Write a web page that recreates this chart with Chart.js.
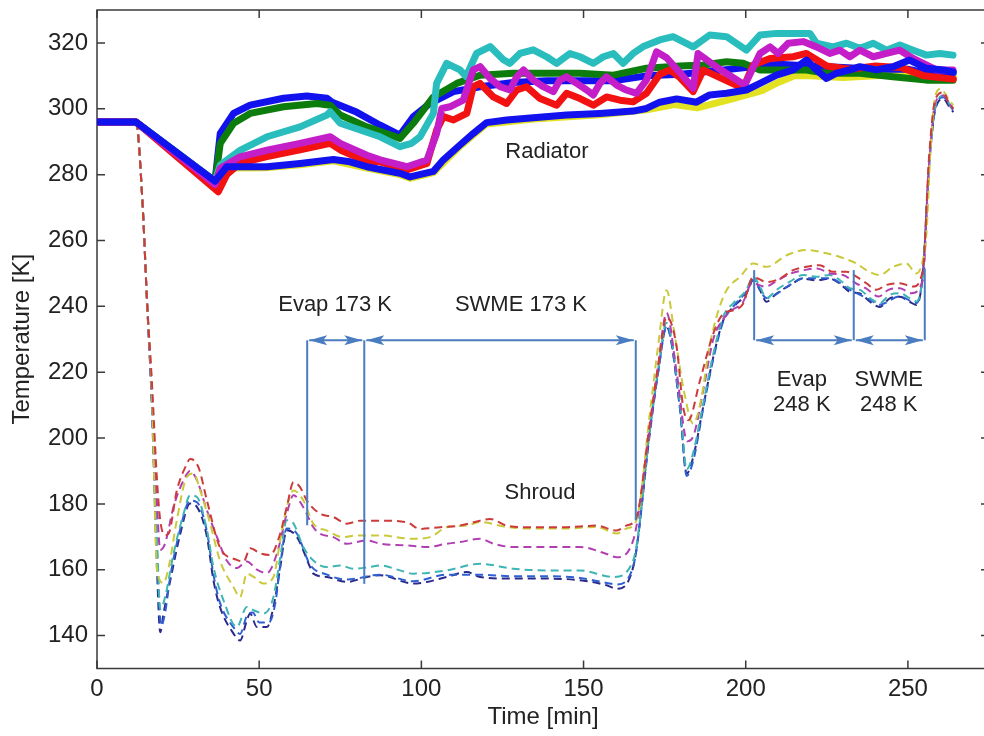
<!DOCTYPE html>
<html><head><meta charset="utf-8">
<script src="https://cdn.jsdelivr.net/npm/chart.js@4.4.1/dist/chart.umd.min.js"></script>
<style>html,body{margin:0;padding:0;background:#fff;overflow:hidden;width:984px;height:736px}canvas{display:block}</style>
</head><body><canvas id="c" width="1000" height="736"></canvas>
<script>
// ---------- DATA (time [min], temperature [K]) ----------
const xTickValues = [0, 50, 100, 150, 200, 250];
const yTickValues = [140, 160, 180, 200, 220, 240, 260, 280, 300, 320];

// Radiator (thick solid lines)
const radBlueLower = [[0,296],[12,296],[36.4,278],[40,282.4],[44.1,282.4],[52.4,282.4],[62.6,283.4],[72.9,284.6],[78,283.9],[83.2,282.4],[93.4,280.4],[96.5,279.3],[103.7,281],[106.8,284.5],[111.9,289],[116,292.5],[120.1,295.8],[126.3,296.6],[134.5,297.3],[144.8,298.1],[155,298.6],[165.3,299.3],[169.4,300.1],[173.5,302],[178.7,303],[184.8,302],[188.9,304.2],[194.1,304.7],[200.2,305.7],[204.4,307.7],[209.5,310.2],[214.6,311.8],[218.7,314.8],[221.8,311.8],[224.9,309.2],[228,310.8],[232.1,311.8],[235.2,312.8],[240.3,311.8],[245.4,312.8],[250.5,314.8],[255.7,312.3],[260.9,311.8],[263.9,311.2]];
const radMagenta = [[0,296],[12,296],[36.4,277],[38,281.9],[44.1,285.4],[52.4,287.4],[62.6,289.5],[71.9,291.5],[75,289.5],[83.2,285.9],[87.3,284.5],[95.5,282.4],[101.7,284.4],[104.7,292.5],[106.3,300.1],[108.8,300.6],[112.9,302.6],[116,311.8],[118.1,312.8],[121.2,309.2],[124.3,306.7],[127.3,305.7],[129.4,309.7],[131.5,311.8],[134.5,308.7],[137.6,306.7],[140.7,305.2],[142.7,308.7],[144.8,309.7],[147.9,307.7],[151,305.7],[153,304.2],[155,307.7],[157.1,309.7],[160.2,307.2],[163.2,305.7],[166.3,304.7],[169.4,308.7],[172.5,317.3],[175.6,315.5],[179.7,311],[183.8,306.2],[185.3,316.8],[192,312],[199.7,307.2],[204.4,316.8],[207.5,318.8],[210,316.8],[213.1,319.9],[217.7,320.4],[221.8,318.8],[225.9,316.8],[229,317.8],[232.1,315.8],[235.2,317.8],[239.3,315.8],[243.4,316.8],[247.5,317.8],[251.6,315.3],[254.7,313.8],[258.8,311.8],[263.9,311.8]];
const radRed = [[0,296],[12,296],[37.4,274.8],[40,280],[44.1,283.5],[52.4,285.5],[62.6,287.5],[71.9,289.5],[75,287.5],[83.2,284],[87.3,283.9],[95.5,281.4],[101.7,283.4],[104.7,293.5],[106.8,297.6],[109.9,296.6],[114,298.6],[116,306.7],[118.1,307.7],[122.2,303.6],[126.3,301.6],[129.4,305.7],[132.4,306.7],[136.6,303.1],[141.7,301.1],[144.8,304.7],[148.9,303.1],[153,301.1],[157.1,303.6],[161.2,302.6],[165.3,302.1],[169.4,304.7],[173.5,310.5],[176.6,311.8],[179.7,309.5],[183.8,305.2],[186.9,311.8],[199.2,306.2],[202.3,313.3],[207.5,315.3],[214.6,315.8],[218.7,316.8],[225,313],[232,312],[240,313],[248,312.5],[255,310],[264,309]];
const radCyan = [[0,296],[12,296],[36.4,278],[38,282.9],[44.1,287.4],[52.4,291.5],[62.6,294.5],[70.9,298.1],[71.9,299.1],[75,295.6],[87.3,291.5],[93.4,288.5],[97,289.5],[99.6,291.5],[103.7,298.6],[104.7,307.7],[107.8,313.8],[111.9,311.8],[113.8,309.8],[117,316.8],[121.2,318.9],[125.3,314.9],[127.3,313.8],[130.4,316.8],[134.5,317.9],[138.6,315.8],[141.7,313.8],[145.8,316.8],[148.9,315.8],[153,313.8],[156.1,315.8],[159.2,316.8],[162.2,313.8],[165.3,316.8],[168.4,318.9],[173.5,320.9],[177.6,321.9],[183.8,318.8],[188.9,322.4],[194.1,321.9],[200.2,317.8],[204.4,322.4],[209.5,322.9],[214.6,322.9],[219.8,322.9],[221.8,319.9],[226.9,318.8],[231.1,319.9],[235.2,318.4],[239.3,319.9],[243.4,317.8],[247.5,319.4],[251.6,317.8],[255.7,316.3],[259.8,316.8],[263.9,316.3]];
const radGreen = [[0,296],[12,296],[36.4,278],[38,289.5],[42.1,295.6],[47.2,298.6],[57.5,300.6],[67.8,301.6],[71.9,301.1],[75,298.1],[83.2,294.5],[93.4,291],[97.5,295.6],[103.7,303.6],[110.9,307.7],[118.1,310.2],[128.3,310.8],[138.6,310.8],[148.9,310.8],[159.2,310.2],[169.4,312.3],[179.7,313],[186.9,313.3],[194.1,314.3],[199.2,313.8],[204.4,311.8],[218.7,311.8],[224.9,310.8],[235.2,310.8],[245.4,309.7],[255.7,308.7],[263.9,308.7]];
const radBlueUpper = [[0,296],[12,296],[36.4,278],[38,292.5],[42.1,298.6],[47.2,301.1],[57.5,303.2],[64.7,303.9],[70.9,303.2],[72.5,302],[80,299],[87.3,295],[93.4,292],[97.5,297.6],[102.6,301.6],[109.9,305.2],[118.1,306.7],[128.3,308],[138.6,308.5],[148.9,308.5],[159.2,308.5],[169.4,310],[180,310.5],[190,311.5],[200,312.5],[210,313.5],[220,313],[230,312.5],[240,312],[250,312],[255,311],[264,311]];
const radYellow = [[0,296],[12,296],[36.4,277],[40,282],[52,282.1],[62.6,283],[72.9,284.2],[83.2,282],[93.4,280],[96.5,278.9],[103.7,280.6],[111.9,288.6],[120.1,295.4],[134.5,296.9],[155,298.2],[169.4,299.7],[178,301.3],[185,300.3],[195,302.8],[205,305.5],[210,308],[215,310],[220,310],[230,309.5],[240,310],[250,310.5],[260,310],[264,310]];

// Shroud (thin dashed lines)
const shrRed = [[0,296],[12,296],[14,272],[15.4,242],[16.9,217.5],[18.5,187.2],[19.5,175],[21,170.5],[22.1,171],[24.6,184],[27.7,192.1],[28.7,193.6],[31.3,191.1],[33.9,181],[37.9,166.8],[43.1,163],[45.2,162.5],[47.2,166.5],[50.3,165],[53.4,164.5],[56.5,171],[58.5,179],[60.6,186.6],[62.6,185.1],[64.7,181],[68.8,177],[72.9,176],[77,174],[81.2,174.9],[87.3,174.9],[95.5,174.4],[99.6,172.4],[105.8,172.9],[111.9,173.4],[118.1,174.9],[121.2,175.4],[126.3,173.4],[133.5,172.9],[143.8,172.9],[154,173.4],[160.2,171.9],[163.2,173.4],[166.3,175.9],[170.5,205],[173,222],[175.6,236.8],[178.7,227.7],[180.7,209.5],[182.3,205.4],[185.9,217.5],[190,231.7],[193.1,237.8],[196.2,238.8],[199.2,240.8],[202.3,248.9],[206.4,247.4],[210.5,248.4],[214.6,251],[218.7,252],[222.8,252.5],[226.9,250.5],[231.1,250.5],[234.1,249],[237.2,247],[240.3,245],[243.4,246.5],[247.5,247],[251.6,246],[254.6,251],[256.5,285],[258.5,303],[261,305],[262.5,302],[264,300]];
const shrYellow = [[0,296],[12,296],[14,272],[15.4,242],[16.9,215],[18.5,160],[20.5,156],[22.1,160.8],[24.6,175],[27.7,188.2],[29.8,189.2],[31.8,184.1],[34.9,174],[37.9,162.8],[42.1,154.7],[44.1,151.7],[46.2,158.8],[48.3,157.8],[51.3,155.8],[54.4,157.8],[56.5,168.9],[58.5,179],[60.6,184.1],[63.6,181.1],[66.7,174],[70.9,171.9],[75.9,169.9],[80.1,170.4],[87.3,170.4],[97.5,169.4],[102.7,169.9],[107.8,172.9],[114,173.4],[118.1,174.5],[126.3,173],[133.5,172.5],[143.8,172.5],[154,173],[160.2,171],[163.2,172.5],[166.3,175],[170.5,208],[173,228],[175.6,244.9],[178,232],[181,214],[183.8,204.4],[186.5,213],[188.5,226],[191,236.8],[194.1,244.9],[198.2,248.9],[202.3,253],[206.4,252],[212.6,255.5],[218.7,257.1],[224.9,256.1],[229,255],[234.1,253],[237.2,251],[241.3,249.5],[245.4,252],[249.5,253],[252.6,250],[254.6,254],[255.7,262],[257,288],[258.5,304],[260,306],[262.5,303],[264,301]];
const shrMagenta = [[0,296],[12,296],[14,272],[15.4,242],[16.9,214],[18.5,180],[19.5,166],[21,168],[23.6,179.1],[26.7,187.2],[28.7,190],[30.8,187.2],[33.9,178],[37,169.9],[40,162.8],[43.1,160.5],[46.2,162.5],[49.3,160],[52.4,159],[55.5,165],[58.5,177],[60.6,182.6],[63.6,179],[66.7,172.9],[68.8,170.9],[72.9,169.9],[77,167.9],[83.2,168.9],[87.3,167.9],[95.5,167.4],[101.7,166.9],[107.8,167.9],[111.9,168.4],[118.1,169.4],[122.2,167.9],[128.3,166.9],[138.6,166.9],[148.9,166.9],[157.1,164.8],[160.2,163.8],[165.3,168.9],[170.5,204],[173,222],[175.6,238],[178.7,220],[182,199],[184,201],[187,215],[190,230],[193,236],[196,239],[199,241],[202,247],[206,246],[210,248],[214,250],[218,251],[222,251.5],[226,250],[230,249.5],[234,247],[237,245.5],[241,243],[244,245],[247.5,245.5],[251,244],[254.6,248],[256.5,283],[258.5,302],[261,304],[262.5,302],[264,300]];
const shrCyan = [[0,296],[12,296],[14,272],[15.4,242],[16.9,212],[18.5,170],[19.5,148],[21,151.7],[23.6,164.9],[26.7,177],[28.7,182.6],[30.8,182.1],[33.9,172],[35.9,160.8],[39,150.7],[43.1,142.6],[46.2,148.7],[48.3,147.7],[51.3,146.7],[54.4,151.7],[56.5,163.8],[58.5,175],[60.6,174],[63.6,166.9],[66.7,162.8],[70.9,160.8],[75,161.3],[79.1,160.3],[84.2,160.8],[87.3,161.3],[93.4,159.8],[97.5,158.8],[107.8,159.8],[118.1,161.8],[128.3,160.3],[138.6,159.8],[148.9,159.8],[159.2,157.8],[165.3,162.8],[170.5,203],[173,221],[175.6,235],[179.7,211],[181.8,190.5],[183.8,195.5],[186.9,210.5],[190,225.5],[193.1,237],[196.2,241],[200.2,245],[202.3,249],[204.4,246],[206.4,242.5],[209.5,245],[213.6,247.5],[217.7,249.5],[221.8,249],[225.9,249.5],[229,248],[232.1,245.5],[235.2,245],[238.3,242.5],[241.3,241],[244.4,243.5],[247.5,244],[250.5,242.5],[252.6,241.5],[254.6,250],[256.5,282],[258.5,301],[261,304],[262.5,302],[264,299.5]];
const shrNavy = [[0,296],[12,296],[14,272],[15.4,242],[16.9,210],[18.5,160],[19.5,141],[20.5,146.7],[22.6,156.8],[25.7,171],[28.7,180.1],[30.8,179.1],[33.9,170],[35.9,156.8],[37.9,148.7],[42.1,140.6],[44.1,138.5],[46.2,144.6],[47.2,146.7],[49.3,142.6],[52.4,142.6],[54.4,148.7],[56.5,160.8],[58.5,172],[61.6,170],[65.7,160.8],[66.7,158.8],[70.9,157.8],[77,156.3],[83.2,157.8],[87.3,158.3],[97.5,155.8],[101.7,156.3],[107.8,157.8],[114,159.3],[118.1,157.8],[128.3,157.3],[138.6,157.3],[148.9,156.8],[157.1,155.3],[160.2,154.2],[165.3,160.8],[170.5,202],[173,220],[175.6,233.7],[179.7,209.5],[181.8,189.2],[183.8,194.2],[186.9,209.5],[190,224.6],[193.1,235.8],[196.2,239.8],[200.2,243.9],[202.3,247.9],[204.4,244.9],[206.4,241.4],[209.5,243.9],[213.6,246.4],[217.7,248.4],[221.8,247.9],[225.9,248.4],[229,246.9],[232.1,244.4],[235.2,243.9],[238.3,241.4],[241.3,239.8],[244.4,242.4],[247.5,242.9],[250.5,241.4],[252.6,240.4],[254.6,249.9],[256.5,282],[258.5,300],[261,303],[262.5,301],[264,299]];
const shrBlue = [[0,296],[12,296],[14,272],[15.4,242],[16.9,211],[18.5,165],[19.8,143],[21,147],[22.6,158],[25.7,172.5],[28.7,181],[30.8,180.5],[33.9,171.5],[35.9,158.5],[37.9,150],[42.1,142.5],[44.1,140.5],[46.2,146],[48,147],[50,144],[53,144],[55,150],[56.5,161.5],[58.5,172.5],[61.6,171],[65.7,161.5],[70.9,158.5],[77,157],[87.3,158.5],[97.5,156.5],[107.8,158.5],[118.1,158.5],[128.3,158],[138.6,158],[148.9,157.5],[157.1,156],[160.2,155.5],[165.3,161],[170.5,203],[173,220],[175.6,234],[179.7,209],[181.8,188.5],[183.8,193],[186.9,209],[190,224],[193.1,235.5],[196.2,240],[200.2,244.5],[202.3,248],[206.4,242.5],[213.6,246.5],[217.7,248.5],[225.9,248.5],[232.1,245],[238.3,242],[241.3,240.5],[247.5,243],[252.6,241],[254.6,250],[256.5,282],[258.5,300.5],[261,303.5],[262.5,301.5],[264,299.5]];

// Annotations: vertical markers [time, K bottom, K top], double arrows [t start, t end, K]
const annVLines = [[64.8,173.5,229.7],[82.4,155.7,229.7],[166.1,175,229.7],[202.6,229.7,251],[233.3,229.7,251],[255.2,229.7,251.5]];
const annArrows = [[64.8,82.4,229.7],[82.4,166.1,229.7],[202.6,233.3,229.7],[233.3,255.2,229.7]];
const annTexts = [["Evap 173 K",73.4,240.3],["SWME 173 K",130.7,240.3],["Radiator",138.7,286.8],["Shroud",136.6,183.2],["Evap",217.3,217.5],["248 K",217.3,210.2],["SWME",244.1,217.5],["248 K",244.1,210.2]];

// ---------- CHART ----------
const toXY = a => a.map(p => ({x: p[0], y: p[1]}));
const radiator = [
  [radBlueLower, '#1212ee'], [radMagenta, '#c41ec8'], [radRed, '#f21212'],
  [radCyan, '#2abdbd'], [radGreen, '#0c7c0c'], [radBlueUpper, '#1212ee'], [radYellow, '#e2e222']
];
const shroud = [
  [shrRed, '#cc3a3a'], [shrYellow, '#c9c93a'], [shrMagenta, '#b23fb2'],
  [shrCyan, '#3fb4b4'], [shrBlue, '#2f5fd0'], [shrNavy, '#2a2a8a']
];
const datasets = [];
radiator.forEach(([d, c]) => datasets.push({data: toXY(d), borderColor: c, borderWidth: 7, pointRadius: 0, tension: 0, borderJoinStyle: 'round', borderCapStyle: 'round', fill: false}));
shroud.forEach(([d, c]) => datasets.push({data: toXY(d), borderColor: c, borderWidth: 2, borderDash: [8, 5], pointRadius: 0, cubicInterpolationMode: 'monotone', fill: false}));

const TXT = '#222';
const annColor = '#4a7cc0';

const framePlugin = {
  id: 'frame',
  beforeDatasetsDraw(chart) {
    const {ctx, chartArea: a, scales: {x, y}} = chart;
    ctx.save();
    ctx.strokeStyle = '#3a3a3a';
    ctx.lineWidth = 1.5;
    ctx.strokeRect(a.left, a.top, a.right - a.left, a.bottom - a.top);
    ctx.beginPath();
    xTickValues.forEach(v => { const p = x.getPixelForValue(v); ctx.moveTo(p, a.bottom); ctx.lineTo(p, a.bottom - 8); ctx.moveTo(p, a.top); ctx.lineTo(p, a.top + 8); });
    yTickValues.forEach(v => { const p = y.getPixelForValue(v); ctx.moveTo(a.left, p); ctx.lineTo(a.left + 8, p); ctx.moveTo(a.right, p); ctx.lineTo(a.right - 8, p); });
    ctx.stroke();
    ctx.restore();
  },
  afterDatasetsDraw(chart) {
    const {ctx, scales: {x, y}} = chart;
    ctx.save();
    ctx.strokeStyle = annColor; ctx.fillStyle = annColor; ctx.lineWidth = 2;
    annVLines.forEach(([t, k0, k1]) => { const p = x.getPixelForValue(t); ctx.beginPath(); ctx.moveTo(p, y.getPixelForValue(k0)); ctx.lineTo(p, y.getPixelForValue(k1)); ctx.stroke(); });
    annArrows.forEach(([t0, t1, k]) => {
      const p0 = x.getPixelForValue(t0) + 2, p1 = x.getPixelForValue(t1) - 2, py = y.getPixelForValue(k);
      ctx.beginPath(); ctx.moveTo(p0, py); ctx.lineTo(p1, py); ctx.stroke();
      ctx.beginPath(); ctx.moveTo(p0, py); ctx.lineTo(p0 + 18, py - 5); ctx.lineTo(p0 + 14, py); ctx.lineTo(p0 + 18, py + 5); ctx.closePath(); ctx.fill();
      ctx.beginPath(); ctx.moveTo(p1, py); ctx.lineTo(p1 - 18, py - 5); ctx.lineTo(p1 - 14, py); ctx.lineTo(p1 - 18, py + 5); ctx.closePath(); ctx.fill();
    });
    ctx.fillStyle = TXT;
    ctx.font = '22px "Liberation Sans", Arial, sans-serif';
    ctx.textAlign = 'center'; ctx.textBaseline = 'middle';
    annTexts.forEach(([s, t, k]) => ctx.fillText(s, x.getPixelForValue(t), y.getPixelForValue(k)));
    ctx.restore();
  }
};

const font = {family: '"Liberation Sans", Arial, sans-serif', size: 24};
new Chart(document.getElementById('c'), {
  type: 'line',
  data: {datasets},
  options: {
    responsive: false, animation: false, devicePixelRatio: 1,
    layout: {padding: {top: 10, right: 11, left: 0, bottom: 0}},
    plugins: {legend: {display: false}, tooltip: {enabled: false}},
    scales: {
      x: {
        type: 'linear', min: 0, max: 275,
        grid: {display: false, drawTicks: false}, border: {display: false},
        afterBuildTicks: s => { s.ticks = xTickValues.map(v => ({value: v})); },
        afterFit: s => { s.height = 67.5; s.paddingLeft = 0; s.paddingRight = 0; },
        ticks: {color: TXT, font, padding: 6, autoSkip: false, maxRotation: 0},
        title: {display: true, text: 'Time [min]', color: TXT, font, padding: {top: 0, bottom: 4}}
      },
      y: {
        type: 'linear', min: 130, max: 330,
        grid: {display: false, drawTicks: false}, border: {display: false},
        afterBuildTicks: s => { s.ticks = yTickValues.map(v => ({value: v})); },
        afterFit: s => { s.width = 97; s.paddingTop = 0; s.paddingBottom = 0; },
        ticks: {color: TXT, font, padding: 9},
        title: {display: true, text: 'Temperature [K]', color: TXT, font, padding: {top: 8, bottom: 0}}
      }
    }
  },
  plugins: [framePlugin]
});
</script></body></html>
